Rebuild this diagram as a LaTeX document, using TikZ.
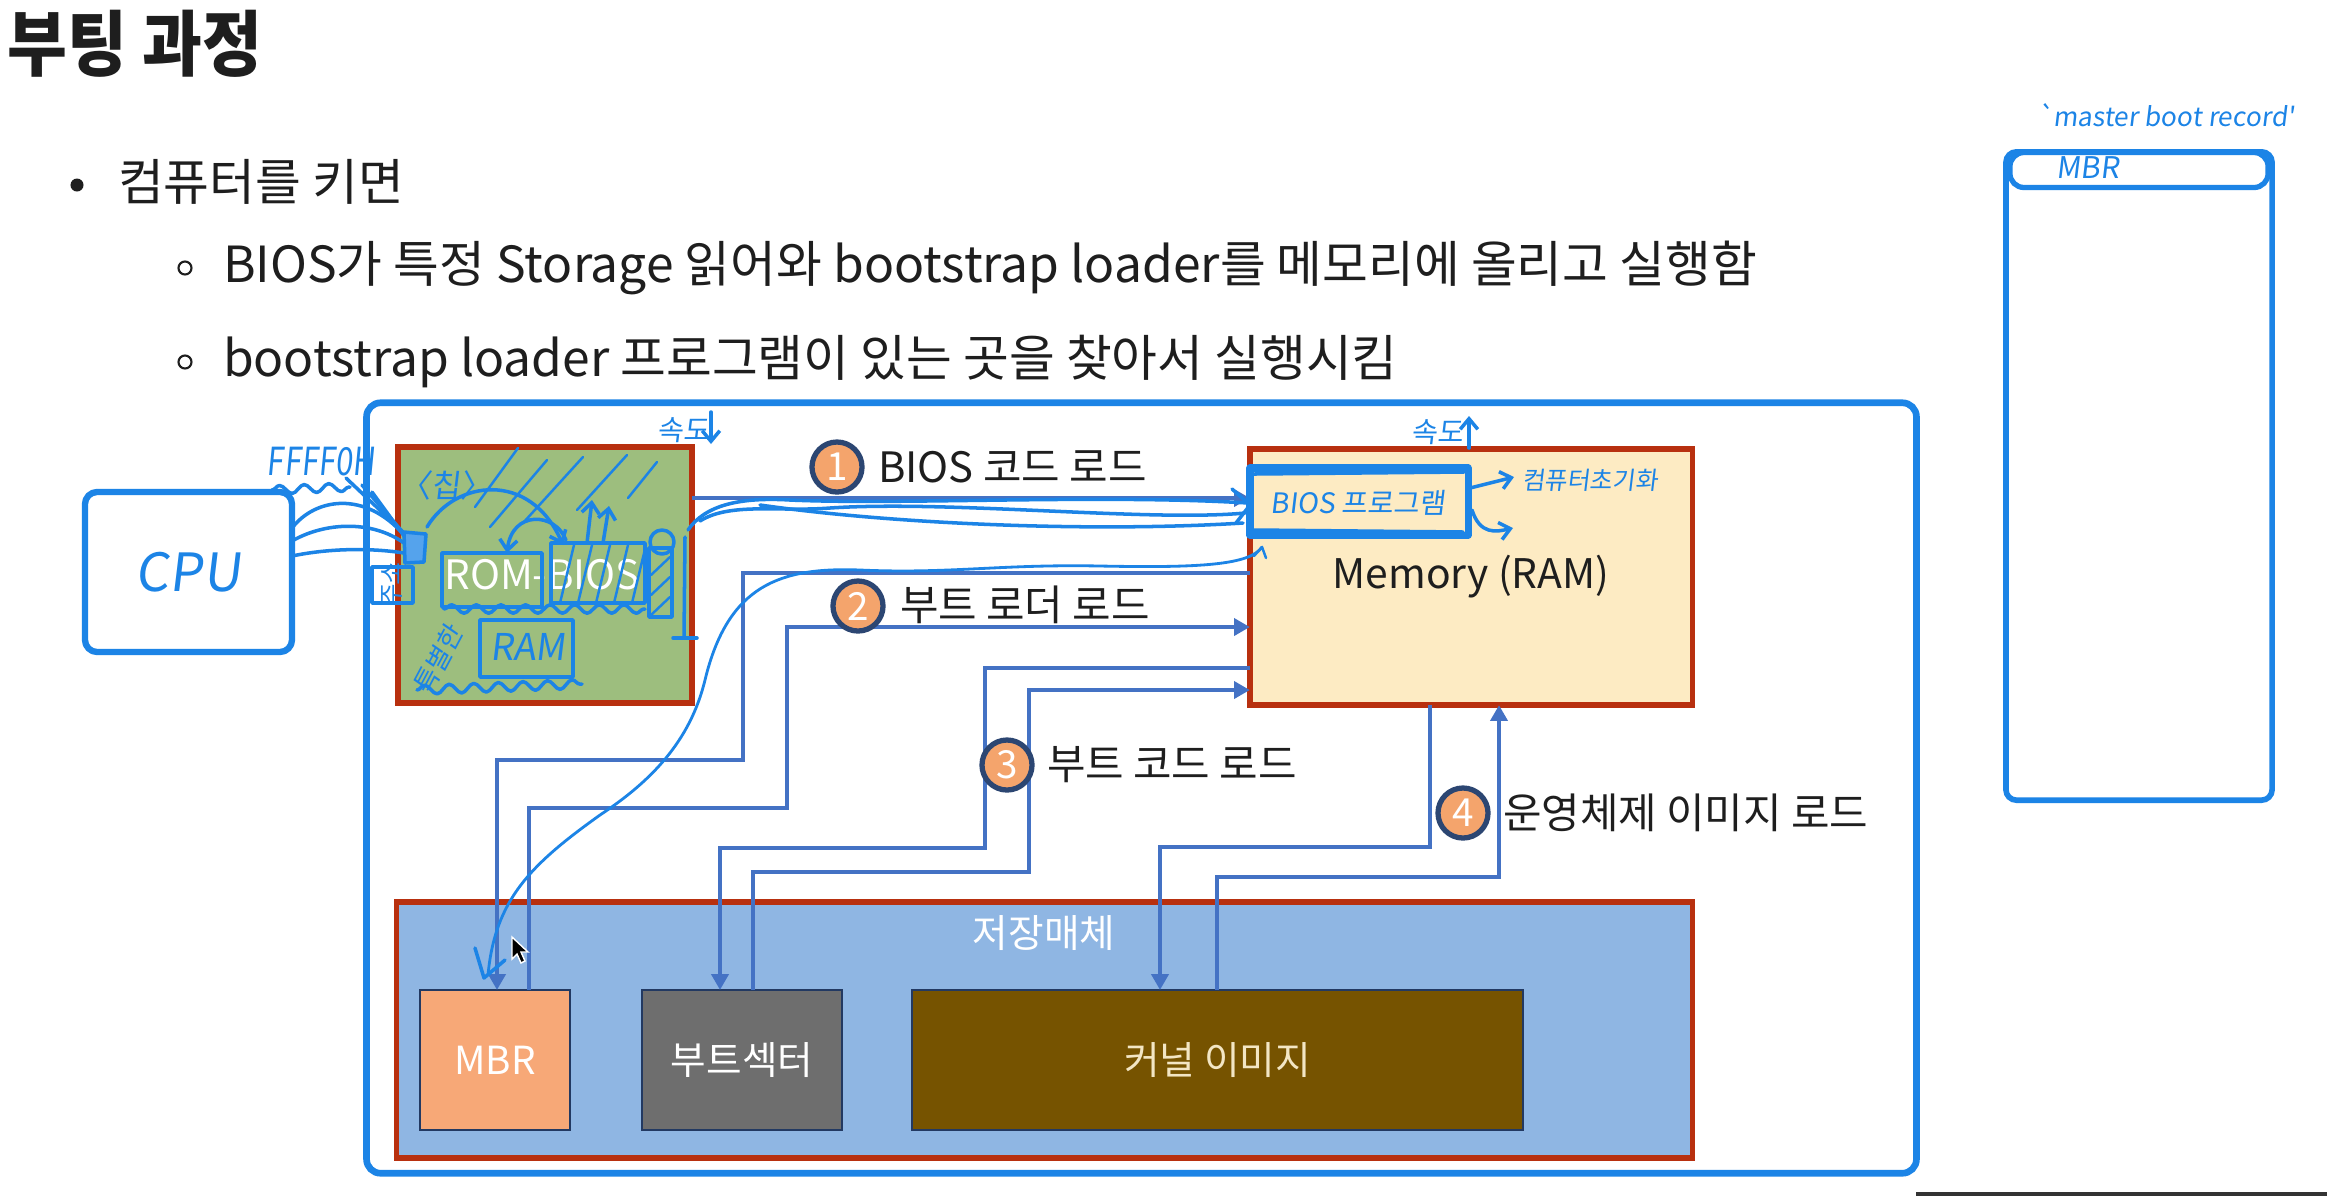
\documentclass[tikz,border=0pt]{standalone}
\usepackage{fontspec}
\setmainfont{Noto Sans CJK KR}
\newfontfamily\handfont{Noto Sans CJK KR}[FakeSlant=0.12]
\usetikzlibrary{arrows.meta,decorations.pathmorphing}
\definecolor{pen}{HTML}{1C84E6}
\definecolor{conn}{HTML}{4472C4}
\definecolor{redb}{HTML}{B8300F}
\definecolor{romg}{HTML}{9DBE7E}
\definecolor{memy}{HTML}{FDEBC3}
\definecolor{stob}{HTML}{8FB6E3}
\definecolor{mbro}{HTML}{F7A877}
\definecolor{bootg}{HTML}{6E6E6E}
\definecolor{kernb}{HTML}{765300}
\definecolor{circo}{HTML}{F4A46C}
\definecolor{circb}{HTML}{2C4672}
\definecolor{txt}{HTML}{1E1E1E}
\definecolor{kerntxt}{HTML}{F3E6C4}
\newcommand\dgfont{\fontsize{11}{13}\selectfont}
\newcommand\lblfont{\fontsize{11.9}{14}\selectfont}
\newcommand\bodyfont{\fontsize{14.15}{17}\selectfont}
\begin{document}
\begin{tikzpicture}[x=0.01cm,y=-0.01cm,
  every node/.style={inner sep=0pt, outer sep=0pt},
  body/.style={anchor=west, text=txt, font=\bodyfont},
  redbox/.style={draw=redb, line width=1.5pt, rectangle},
  inbox/.style={draw=conn!50!black, line width=0.6pt, rectangle, font=\dgfont},
  conn/.style={draw=conn, line width=1.3pt, -{Triangle[length=4.5pt,width=4.8pt]}},
  num/.style={circle, draw=circb, line width=1.5pt, fill=circo, minimum size=0.5cm, text=white, font=\dgfont},
  lbl/.style={anchor=west, text=txt, font=\lblfont},
  penline/.style={draw=pen, line width=1pt, line cap=round, line join=round},
  penthick/.style={draw=pen, line width=1.8pt, line cap=round, line join=round},
  pentext/.style={text=pen, font=\handfont\fontsize{9}{10}\selectfont},
  barb/.style={-{Straight Barb[length=3pt,width=5pt]}}
]
\useasboundingbox (0,0) rectangle (2327,1196);
\fill[white] (0,0) rectangle (2327,1196);

% ---------- header text ----------
\node[anchor=west, text=txt, font=\fontsize{18.5}{22}\selectfont\bfseries] (title) at (8,44) {\scalebox{1}[1.1]{부팅 과정}};
\fill[txt] (77,185) circle (0.065cm);
\node[body] (b1) at (118,182) {컴퓨터를 키면};
\draw[txt, line width=0.6pt] (185,268) circle (0.065cm);
\node[body] (s1) at (223,268) {BIOS가 특정 Storage 읽어와 bootstrap loader를 메모리에 올리고 실행함};
\draw[txt, line width=0.6pt] (185,362) circle (0.065cm);
\node[body] (s2) at (223,362) {bootstrap loader 프로그램이 있는 곳을 찾아서 실행시킴};

% ---------- frame ----------
\node[draw=pen, line width=1.9pt, rounded corners=4pt, minimum width=15.49cm, minimum height=7.70cm] (frame) at (1141.5,788) {};

% ---------- boxes ----------
\node[redbox, fill=romg, minimum width=2.94cm, minimum height=2.56cm] (rom) at (545,575) {};
\node[text=white, font=\fontsize{11.5}{13}\selectfont] (romtxt) at (542,575) {ROM-BIOS};
\node[redbox, fill=memy, minimum width=4.42cm, minimum height=2.56cm, text=txt, font=\fontsize{11.6}{13}\selectfont] (mem) at (1471,577) {Memory (RAM)};
\node[redbox, fill=stob, minimum width=12.95cm, minimum height=2.56cm] (sto) at (1044.5,1030) {};
\node[text=white, font=\dgfont] (stotxt) at (1044,933) {저장매체};
\node[inbox, fill=mbro, minimum width=1.5cm, minimum height=1.4cm, text=white] (mbr) at (495,1060) {MBR};
\node[inbox, fill=bootg, minimum width=2cm, minimum height=1.4cm, text=white] (boot) at (742,1060) {부트섹터};
\node[inbox, fill=kernb, minimum width=6.11cm, minimum height=1.4cm, text=kerntxt] (kern) at (1217.5,1060) {커널 이미지};

% ---------- connectors ----------
\draw[conn] (rom.east |- 0,498) -- (mem.west |- 0,498);
\draw[conn] (mem.west |- 0,573) -| (743,760) -| (mbr.north -| 497,0);
\draw[conn] (mbr.north -| 529,0) |- (787,808) |- (mem.west |- 0,627);
\draw[conn] (mem.west |- 0,668) -| (985,848) -| (boot.north -| 720,0);
\draw[conn] (boot.north -| 753,0) |- (1029,872) |- (mem.west |- 0,690);
\draw[conn] (mem.south -| 1430,0) |- (1160,847) -- (kern.north -| 1160,0);
\draw[conn] (kern.north -| 1217,0) |- (1499,877) -- (mem.south -| 1499,0);

% ---------- step labels ----------
\node[num] (n1) at (837,467) {1};
\node[lbl] (l1) at (878,467) {BIOS 코드 로드};
\node[num] (n2) at (858,606) {2};
\node[lbl] (l2) at (900,605) {부트 로더 로드};
\node[num] (n3) at (1007,765) {3};
\node[lbl] (l3) at (1047,765) {부트 코드 로드};
\node[num] (n4) at (1463,813) {4};
\node[lbl] (l4) at (1503,813) {운영체제 이미지 로드};

% ---------- handwritten: CPU ----------
\node[penthick, draw=pen, rounded corners=3.5pt, minimum width=2.07cm, minimum height=1.60cm,
      text=pen, font=\handfont\fontsize{15}{17}\selectfont] (cpu) at (188.5,572) {CPU};
\node[pentext] (ffff) at (321,462) {\scalebox{0.8}[1]{\fontsize{11}{12}\selectfont FFFF0H}};
\draw[penline, decorate, decoration={snake, amplitude=1.2pt, segment length=7pt}] (272,490) -- (350,487);
\draw[penline] (cpu.east |- 0,528) .. controls (315,498) and (365,490) .. (404,535);
\draw[penline] (cpu.east |- 0,541) .. controls (325,522) and (372,520) .. (404,543);
\draw[penline] (cpu.east |- 0,556) .. controls (330,548) and (372,548) .. (404,553);
\draw[penline] (346,478) -- (404,533);
\draw[penline] (362,485) -- (406,536);
\draw[penline] (372,492) -- (407,540);

% chip at left
\filldraw[penline, fill=pen!75] (404,532) -- (426,534) -- (424,562) -- (405,563) -- cycle;
\draw[penline] (372,567) rectangle (413,603);
\node[pentext, rotate=90, font=\handfont\fontsize{7}{8}\selectfont] (juso) at (392,585) {주소};
\node[pentext] (chip) at (446,485) {〈칩〉};

% hatching in the upper green area
\draw[penline, line width=0.7pt] (475,507) -- (518,448);
\draw[penline, line width=0.7pt] (490,527) -- (547,460);
\draw[penline, line width=0.7pt] (523,523) -- (583,457);
\draw[penline, line width=0.7pt] (577,510) -- (627,455);
\draw[penline, line width=0.7pt] (628,498) -- (657,462);

% arcs and arrows inside ROM box
\draw[penline, barb] (427,527) .. controls (455,480) and (530,470) .. (563,545);
\draw[penline, barb] (566,540) .. controls (555,512) and (512,510) .. (507,553);
\draw[penline, barb] (587,543) -- (592,500);
\draw[penline, barb] (603,543) -- (609,506);

% ROM / BIOS hand boxes
\draw[penline] (442,553) rectangle (542,607);
\draw[penline] (551,543) rectangle (645,603);
\foreach \a in {560,578,596,614,632} {\draw[penline, line width=0.7pt] (\a,603) -- (\a+14,545);}
\draw[penline, decorate, decoration={snake, amplitude=1.2pt, segment length=7pt}] (444,609) -- (645,609);

% right chip
\draw[penline] (649,548) rectangle (672,617);
\draw[penline] (662,542) circle (0.12cm);
\foreach \b in {565,585,605} {\draw[penline, line width=0.7pt] (651,\b+10) -- (670,\b-8);}
\draw[penline] (685,537) -- (684,637);
\draw[penline] (673,638) -- (697,638);

% special RAM
\node[pentext, rotate=62, font=\handfont\fontsize{7.5}{9}\selectfont] (special) at (438,660) {특별한};
\draw[penline] (480,620) rectangle (573,677);
\node[pentext, font=\handfont\fontsize{10.5}{12}\selectfont] (ramtxt) at (528,647) {RAM};
\draw[penline, decorate, decoration={snake, amplitude=1.3pt, segment length=7pt}] (417,690) -- (582,684);

% speed notes
\node[pentext, font=\handfont\fontsize{8}{9}\selectfont] (slow) at (683,430) {속도};
\draw[penline, barb] (711,412) -- (711,444);
\node[pentext, font=\handfont\fontsize{8}{9}\selectfont] (fast) at (1437,432) {속도};
\draw[penline, barb] (1469,448) -- (1469,416);

% bundle ROM -> BIOS program
\draw[penline] (688,530) .. controls (705,505) and (740,497) .. (790,500) .. controls (900,505) and (1100,494) .. (1248,503);
\draw[penline] (700,521) .. controls (730,502) and (780,512) .. (830,508) .. controls (950,500) and (1150,522) .. (1245,513);
\draw[penline] (760,505) .. controls (900,525) and (1100,532) .. (1243,523);
\draw[penline] (1232,489) -- (1250,505) -- (1236,523);

% thin curve memory -> MBR
\draw[penline, line width=0.8pt] (1262,547) .. controls (1250,565) and (1200,568) .. (1100,566) .. controls (1000,564) and (950,574) .. (860,570) .. controls (780,567) and (728,585) .. (705,680) .. controls (690,742) and (650,782) .. (600,815) .. controls (530,865) and (495,900) .. (488,975);
\draw[penline] (475,948) -- (484,978) -- (505,960);
\draw[penline, line width=0.7pt] (1254,556) -- (1262,547) -- (1266,558);

% BIOS program box in memory
\draw[penthick, line width=2pt] (1250,468) rectangle (1468,535);
\draw[penline] (1254,474) -- (1464,472);
\draw[penline] (1254,530) -- (1463,532);
\node[pentext, font=\handfont\fontsize{8}{9}\selectfont] (biosprog) at (1358,503) {BIOS 프로그램};
\draw[penline, barb] (1470,488) -- (1514,477);
\node[pentext, anchor=west, font=\handfont\fontsize{7}{8}\selectfont] (init) at (1522,480) {컴퓨터초기화};
\draw[penline, barb] (1472,510) .. controls (1480,535) and (1496,532) .. (1513,528);

% mouse cursor
\filldraw[fill=black, draw=white, line width=0.4pt] (512,937) -- (512,959) -- (517,954) -- (521,963) -- (525,961) -- (521,952) -- (528,952) -- cycle;

% ---------- right panel ----------
\node[pentext, font=\handfont\fontsize{7.5}{9}\selectfont] (mbrnote) at (2166,115) {`master boot record'};
\node[draw=pen, line width=1.6pt, rounded corners=3pt, minimum width=2.66cm, minimum height=6.48cm] (disk) at (2139,476) {};
\node[draw=pen, line width=1.5pt, rounded corners=4pt, minimum width=2.58cm, minimum height=0.35cm] (mbrstrip) at (2139,170) {};
\node[pentext, font=\handfont\fontsize{8.5}{9}\selectfont] (mbrlabel) at (2088,168) {MBR};

% bottom-right bar
\draw[black!80, line width=0.9pt] (1916,1194) -- (2327,1194);
\end{tikzpicture}
\end{document}
